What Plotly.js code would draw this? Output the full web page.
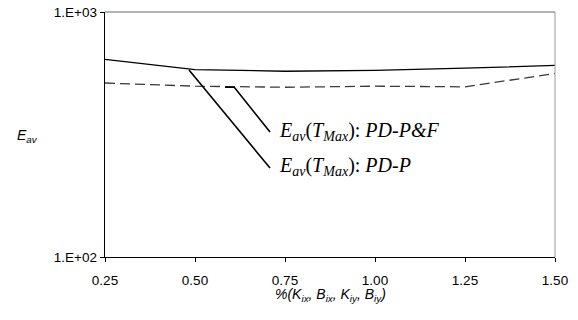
<!DOCTYPE html>
<html>
<head>
<meta charset="utf-8">
<script src="https://cdn.plot.ly/plotly-3.0.1.min.js"></script>
<style>html,body{margin:0;padding:0;background:#fff;}#chart{width:578px;height:320px;}</style>
</head>
<body>
<div id="chart"></div>
<script>
// Data
const xValues = [0.25, 0.50, 0.75, 1.00, 1.25, 1.50];
const eavPDP  = [641, 582, 573, 578, 590, 605];   // solid
const eavPDPF = [513, 498, 493, 498, 495, 561];   // dashed
const yTickVals = [100, 1000];
const yTickText = ['1.E+02', '1.E+03'];
const xTickVals = [0.25, 0.50, 0.75, 1.00, 1.25, 1.50];
const xTickText = ['0.25', '0.50', '0.75', '1.00', '1.25', '1.50'];

const SANS = "Liberation Sans";
const SERIF = "Liberation Serif";

const traces = [
  {x: xValues, y: eavPDP, type: 'scatter', mode: 'lines',
   line: {color: '#000', width: 1.3}, showlegend: false, hoverinfo: 'skip'},
  {x: xValues, y: eavPDPF, type: 'scatter', mode: 'lines',
   line: {color: '#3a3a3a', width: 1.3, dash: '10px,5px'}, showlegend: false, hoverinfo: 'skip'}
];

const layout = {
  width: 578, height: 320,
  margin: {l: 105, r: 23, t: 12, b: 63},
  paper_bgcolor: '#fff', plot_bgcolor: '#fff',
  font: {family: SANS, size: 13, color: '#000'},
  xaxis: {
    range: [0.25, 1.5], tickvals: xTickVals, ticktext: xTickText,
    showgrid: false, zeroline: false, showline: true, linecolor: '#000', linewidth: 1.3,
    ticks: 'outside', ticklen: 4, tickcolor: '#000', tickfont: {family: SANS, size: 13.5, color: '#000'},
    ticklabelstandoff: 6
  },
  yaxis: {
    type: 'log', range: [2, 3], tickvals: yTickVals, ticktext: yTickText,
    showgrid: false, zeroline: false, showline: true, linecolor: '#000', linewidth: 1.3,
    ticks: 'outside', ticklen: 4, tickcolor: '#000', tickfont: {family: SANS, size: 13.5, color: '#000'}
  },
  shapes: [
    {type: 'line', xref: 'paper', yref: 'paper', x0: 0, x1: 1, y0: 1, y1: 1, line: {color: '#666', width: 1}},
    {type: 'line', xref: 'paper', yref: 'paper', x0: 1, x1: 1, y0: 0, y1: 1, line: {color: '#999', width: 1}},
    {type: 'line', xref: 'paper', yref: 'paper', x0: 0.1867, y0: 0.763, x1: 0.3667, y1: 0.363,
     line: {color: '#000', width: 1.6}},
    {type: 'path', xref: 'paper', yref: 'paper',
     path: 'M 0.2667 0.693 L 0.2873 0.693 L 0.3667 0.510',
     line: {color: '#000', width: 1.6}}
  ],
  annotations: [
    {xref: 'paper', yref: 'paper', x: 0.382, y: 0.514, xanchor: 'left', yanchor: 'middle', showarrow: false,
     text: '<i>E<sub>av</sub></i>(<i>T<sub>Max</sub></i>): <i>PD-P&amp;F</i>',
     font: {family: SERIF, size: 20, color: '#000'}},
    {xref: 'paper', yref: 'paper', x: 0.382, y: 0.371, xanchor: 'left', yanchor: 'middle', showarrow: false,
     text: '<i>E<sub>av</sub></i>(<i>T<sub>Max</sub></i>): <i>PD-P</i>',
     font: {family: SERIF, size: 20, color: '#000'}},
    {xref: 'paper', yref: 'paper', x: -0.2, y: 0.494, xanchor: 'left', yanchor: 'middle', showarrow: false,
     text: '<i>E<sub>av</sub></i>',
     font: {family: SANS, size: 14, color: '#000'}},
    {xref: 'paper', yref: 'paper', x: 0.5, y: -0.155, xanchor: 'center', yanchor: 'middle', showarrow: false,
     text: '<i>%(K<sub>ix</sub>, B<sub>ix</sub>, K<sub>iy</sub>, B<sub>iy</sub>)</i>',
     font: {family: SANS, size: 14, color: '#000'}}
  ]
};

Plotly.newPlot('chart', traces, layout, {staticPlot: true, displayModeBar: false});
</script>
</body>
</html>
